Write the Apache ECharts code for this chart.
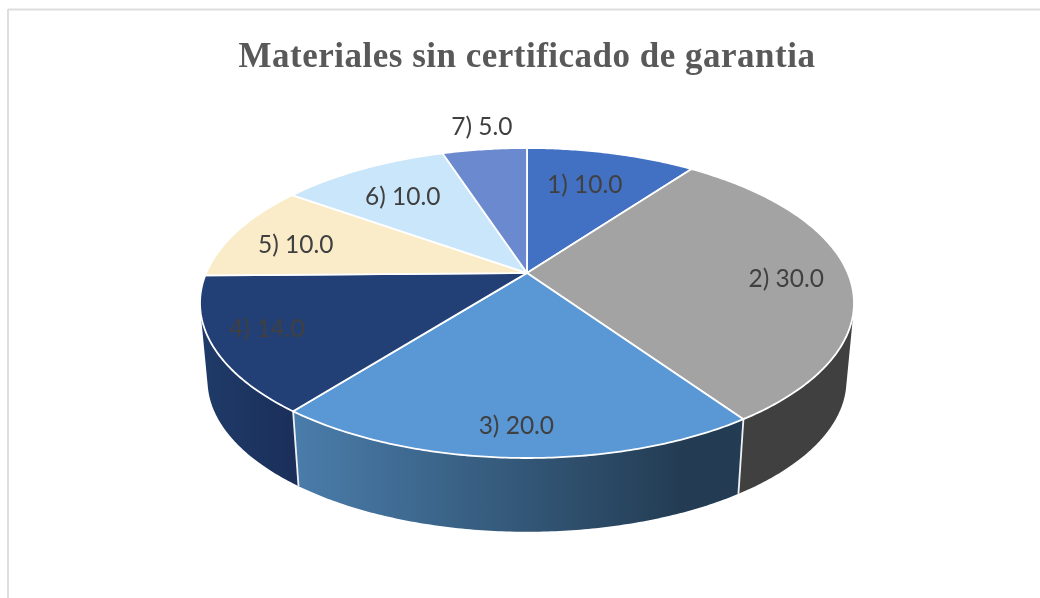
<!DOCTYPE html>
<html>
<head>
<meta charset="utf-8">
<style>
html,body{margin:0;padding:0;background:#fff}
#c{width:1040px;height:598px;filter:blur(0.5px)}
#c svg text[style*="35px"]{letter-spacing:0.5px}
</style>
<script src="https://cdn.jsdelivr.net/npm/echarts@6/dist/echarts.min.js"></script>
</head>
<body>
<div id="c"></div>
<script>
// ---- data ----
const titleText = 'Materiales sin certificado de garantia';
const sliceLabels = ['1) 10.0', '2) 30.0', '3) 20.0', '4) 14.0', '5) 10.0', '6) 10.0', '7) 5.0'];
const sliceValues = [10, 30, 20, 14, 10, 10, 5];

// ---- styles / layout ----
const topColors = ['#4270C3', '#A3A3A3', '#5997D5', '#224076', '#FAECC9', '#CAE6FA', '#6A89CE'];
const wallFills = [null, ['#404040', '#404040'], ['#4A7DAB', '#233C53'], ['#1F3B69', '#1B2F5A'], null, null, null];
const labelNudge = [[-12, 9], [2, 3], [-1, 10], [-13, -2], [3, 4], [11, 8], [-10, -45]];
const PIE = { cx: 527, cy: 273, a: 320.8, b: 149.2, k: 0.1935, wallDrop: 78, wallScale: 0.977, labelR: 0.8 };

const total = sliceValues.reduce((s, v) => s + v, 0);
let running = 0;
const rows = sliceValues.map((v, i) => {
  const r = [running, running + v, i];
  running += v;
  return r;
});

// Perspective projection of a point on the unit disc; value share runs clockwise from 12 o'clock.
function project(share, f) {
  const t = share / total * Math.PI * 2;
  const u = f * Math.sin(t), v = -f * Math.cos(t);
  const s = 1 / (1 - PIE.k * v);
  return [PIE.cx + PIE.a * u * s, PIE.cy + PIE.b * v * s];
}
function lower(p) {
  return [PIE.cx + (p[0] - PIE.cx) * PIE.wallScale, PIE.cy + PIE.wallDrop + (p[1] - PIE.cy) * PIE.wallScale];
}
function rim(a, b) {
  const pts = [], n = Math.max(8, Math.ceil((b - a) * 6));
  for (let i = 0; i <= n; i++) pts.push(project(a + (b - a) * i / n, 1));
  return pts;
}
// Only the part of the rim whose wall faces the viewer.
function visibleRim(pts) {
  return pts.filter((p, i) => {
    const q = pts[Math.min(i + 1, pts.length - 1)], o = pts[Math.max(i - 1, 0)];
    const d = lower(p);
    const cross = (q[0] - o[0]) * (d[1] - p[1]) - (q[1] - o[1]) * (d[0] - p[0]);
    return cross < 0;
  });
}

const wallSeries = {
  type: 'custom', coordinateSystem: 'none', silent: true, z: 1, data: rows,
  renderItem(params, api) {
    const a = api.value(0), b = api.value(1), i = api.value(2);
    if (!wallFills[i]) return { type: 'group', children: [] };
    const up = visibleRim(rim(a, b));
    if (up.length < 2) return { type: 'group', children: [] };
    const down = up.map(lower).reverse();
    const xs = up.map(p => p[0]);
    const c = wallFills[i];
    return {
      type: 'polygon',
      shape: { points: up.concat(down) },
      style: {
        fill: new echarts.graphic.LinearGradient(Math.min(...xs), 0, Math.max(...xs) - (i === 2 ? 60 : 0), 0,
          [{ offset: 0, color: c[0] }, { offset: 1, color: c[1] }], true)
      }
    };
  }
};

const seamSeries = {
  type: 'custom', coordinateSystem: 'none', silent: true, z: 2, data: rows,
  renderItem(params, api) {
    const b = api.value(1), i = api.value(2);
    if (i !== 1 && i !== 2) return { type: 'group', children: [] };
    const p = project(b, 1), q = lower(p);
    return {
      type: 'line',
      shape: { x1: p[0], y1: p[1], x2: q[0], y2: q[1] },
      style: { stroke: '#EEF1F5', lineWidth: 1.8 }
    };
  }
};

const topSeries = {
  type: 'custom', coordinateSystem: 'none', silent: true, z: 3, data: rows,
  renderItem(params, api) {
    const a = api.value(0), b = api.value(1), i = api.value(2);
    return {
      type: 'polygon',
      shape: { points: [[PIE.cx, PIE.cy]].concat(rim(a, b)) },
      style: { fill: topColors[i], stroke: '#FFFFFF', lineWidth: 1.8, lineJoin: 'round' }
    };
  }
};

const labelSeries = {
  type: 'custom', coordinateSystem: 'none', silent: true, z: 4, data: rows,
  renderItem(params, api) {
    const a = api.value(0), b = api.value(1), i = api.value(2);
    const p = project((a + b) / 2, PIE.labelR);
    return {
      type: 'text',
      x: p[0] + labelNudge[i][0], y: p[1] + labelNudge[i][1],
      style: {
        text: sliceLabels[i], fill: '#404040',
        font: '24.5px Lato, sans-serif', textAlign: 'center', textVerticalAlign: 'middle'
      }
    };
  }
};

const chart = echarts.init(document.getElementById('c'), null, { renderer: 'svg' });
chart.setOption({
  animation: false,
  backgroundColor: '#ffffff',
  title: {
    text: titleText, left: 522, top: 50, textAlign: 'center', textVerticalAlign: 'middle',
    textStyle: { fontFamily: 'Liberation Serif', fontWeight: 'bold', fontSize: 35, color: '#595959' }
  },
  graphic: [
    { type: 'line', shape: { x1: 8, y1: 9.5, x2: 1040, y2: 9.5 }, style: { stroke: '#DEDEDE', lineWidth: 2 } },
    { type: 'line', shape: { x1: 8, y1: 9, x2: 8, y2: 598 }, style: { stroke: '#DEDEDE', lineWidth: 2 } }
  ],
  series: [wallSeries, seamSeries, topSeries, labelSeries]
});
</script>
</body>
</html>
